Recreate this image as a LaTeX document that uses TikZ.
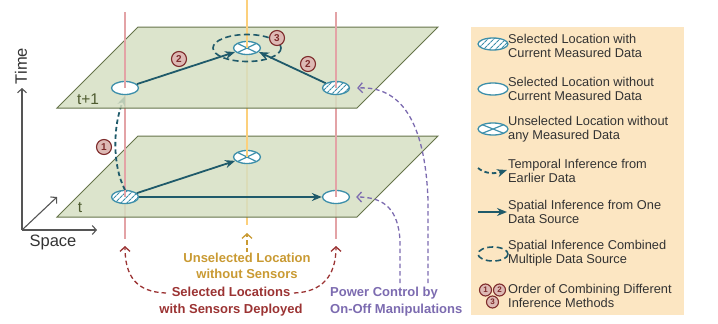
\documentclass[tikz,border=0pt]{standalone}
\usepackage{fontspec}
\setmainfont{Liberation Sans}
\usetikzlibrary{arrows.meta,shapes.geometric,patterns.meta}
\definecolor{planefill}{HTML}{D6DFC3}
\definecolor{planeedge}{HTML}{66744A}
\definecolor{planetext}{HTML}{4E5B2F}
\definecolor{pinkline}{HTML}{E3A3A6}
\definecolor{yelline}{HTML}{FCD07C}
\definecolor{nodeedge}{HTML}{3D8FAA}
\definecolor{arrowc}{HTML}{1F5A6A}
\definecolor{numfill}{HTML}{DDB9B4}
\definecolor{numedge}{HTML}{7E2B2B}
\definecolor{ylabel}{HTML}{C99A33}
\definecolor{rlabel}{HTML}{9B3333}
\definecolor{plabel}{HTML}{7C6BB0}
\definecolor{legfill}{HTML}{FCE6C2}
\definecolor{legtext}{HTML}{333333}
\definecolor{axisc}{HTML}{555555}
\pgfdeclarelayer{Lbase}
\pgfdeclarelayer{Lplane}
\pgfdeclarelayer{Lmid}
\pgfdeclarelayer{Uplane}
\pgfsetlayers{Lbase,Lplane,Lmid,Uplane,main}
\tikzset{
  loc/.style={ellipse, draw=nodeedge, line width=1.3pt, fill=white, minimum width=27pt, minimum height=13pt, inner sep=0pt},
  hatched/.style={loc, preaction={fill=white}, pattern={Lines[angle=45,distance=4pt,line width=1.1pt]}, pattern color=nodeedge},
  crossed/.style={loc, path picture={\draw[nodeedge, line width=1.2pt] (path picture bounding box.north west) -- (path picture bounding box.south east) (path picture bounding box.north east) -- (path picture bounding box.south west);}},
  plane/.style={fill=planefill, fill opacity=0.85, draw=planeedge, line width=1pt},
  planelabel/.style={text=planetext, font=\fontsize{15.5}{15.5}\selectfont, inner sep=0pt},
  pinkv/.style={draw=pinkline, line width=2.8pt},
  yelv/.style={draw=yelline, line width=2.8pt},
  spat/.style={draw=arrowc, line width=1.8pt, -{Stealth[length=10pt,width=8pt]}},
  temp/.style={spat, dash pattern=on 4.5pt off 3pt},
  ring/.style={draw=arrowc, line width=1.6pt, dash pattern=on 6pt off 3.5pt},
  numc/.style={circle, draw=numedge, fill=numfill, line width=1.1pt, minimum size=15pt, inner sep=0pt, text=numedge, font=\fontsize{10}{10}\selectfont\bfseries},
  nums/.style={numc, minimum size=12pt, font=\fontsize{8}{8}\selectfont\bfseries},
  openarr/.style={-{Straight Barb[length=4.5pt,width=10pt]}, dash pattern=on 4.5pt off 3pt, line width=1.3pt},
  axis/.style={draw=axisc, line width=1.1pt, -{Straight Barb[length=4pt,width=9pt]}},
  axislabel/.style={text=black!80, font=\fontsize{16.5}{16.5}\selectfont, inner sep=0pt},
  blabel/.style={font=\fontsize{13}{16.5}\selectfont\bfseries, align=center, inner sep=0pt},
  legtxt/.style={anchor=west, text=legtext, font=\fontsize{12.8}{14}\selectfont, align=left, inner sep=0pt},
}
\begin{document}
\begin{tikzpicture}[x=1pt,y=-1pt]
\useasboundingbox (0,0) rectangle (718,324);
% coordinates of columns
\coordinate (cL0) at (125,197); \coordinate (cL1) at (125,88);
\coordinate (cM0) at (247,157); \coordinate (cM1) at (247,48);
\coordinate (cR0) at (336,197); \coordinate (cR1) at (336,88);
\coordinate (topL) at (125,12); \coordinate (botL) at (125,239);
\coordinate (topM) at (247,0);  \coordinate (botM) at (247,225);
\coordinate (topR) at (336,12); \coordinate (botR) at (336,239);

\begin{pgfonlayer}{Lbase}
  \draw[pinkv] (cL0) -- (botL);
  \draw[pinkv] (cR0) -- (botR);
  \draw[yelv] (cM0) -- (botM);
\end{pgfonlayer}

\begin{pgfonlayer}{Lplane}
  \path[plane] (57,217) -- (138,136) -- (438,136) -- (357,217) -- cycle;
  \node[planelabel] (tl) at (80,208) {t};
\end{pgfonlayer}

\begin{pgfonlayer}{Lmid}
  \node[hatched] (lh) at (cL0) {};
  \node[crossed] (lx) at (cM0) {};
  \node[loc] (le) at (cR0) {};
  \draw[pinkv] (cL0) -- (cL1);
  \draw[pinkv] (cR0) -- (cR1);
  \draw[yelv] (cM0) -- (cM1);
  \draw[spat] (lh) -- (lx);
  \draw[spat] (lh) -- (le);
  \draw[temp] (lh.north) .. controls +(-13,-25) and +(-12,30) .. ([yshift=-1pt]cL1 |- 0,95);
\end{pgfonlayer}

\begin{pgfonlayer}{Uplane}
  \path[plane] (57,108) -- (138,27) -- (438,27) -- (357,108) -- cycle;
  \node[planelabel] (tl1) at (88,99) {t+1};
\end{pgfonlayer}

% upper nodes
\node[loc] (ue) at (cL1) {};
\node[crossed] (ux) at (cM1) {};
\node[hatched] (uh) at (cR1) {};
\draw[pinkv] (cL1) -- (topL);
\draw[pinkv] (cR1) -- (topR);
\draw[yelv] (cM1) -- (topM);
\draw[ring] (cM1) ellipse [x radius=34, y radius=13.5];
\draw[spat] (ue) -- ([xshift=-2pt,yshift=1pt]ux.south west);
\draw[spat] (uh) -- ([xshift=2pt,yshift=1pt]ux.south east);
\node[numc] (n3) at (277,38) {3};
\node[numc] (n2a) at (179,59) {2};
\node[numc] (n2b) at (308,64) {2};
\node[numc] (n1) at (104,147) {1};

% axes
\coordinate (ax0) at (22,230);
\coordinate (axT) at (22,88);
\coordinate (axS) at (97,230);
\coordinate (axD) at (57,197);
\draw[axis] (ax0) -- (axT);
\draw[axis] (ax0) -- (axS);
\draw[axis] (ax0) -- (axD);
\node[axislabel, rotate=90] (timel) at (21,66) {Time};
\node[axislabel] (spacel) at (53,242) {Space};

% bottom labels
\node[blabel, text=ylabel] (ul) at (247,266) {Unselected Location\\without Sensors};
\node[blabel, text=rlabel] (sl) at (231,301.5) {Selected Locations\\with Sensors Deployed};
\node[blabel, text=plabel, align=left, anchor=west] (pl) at (330,301.5) {Power Control by\\On-Off Manipulations};

\coordinate (yst) at (247,252);
\draw[openarr, draw=ylabel] (yst) -- (botM |- 0,233);
\coordinate (rl) at (166,293);
\coordinate (rr) at (294,293);
\draw[openarr, draw=rlabel] (rl) .. controls (136,292) and (125,276) .. (botL |- 0,246);
\draw[openarr, draw=rlabel] (rr) .. controls (322,292) and (336,276) .. (botR |- 0,246);
\coordinate (p1) at (400,283);
\coordinate (p2) at (428,283);
\draw[openarr, draw=plabel] (p1) -- (400,240) .. controls (398,210) and (385,197) .. ([xshift=6pt]le.east);
\draw[openarr, draw=plabel] (p2) -- (428,200) .. controls (425,120) and (400,86) .. ([xshift=7pt]uh.east);

% legend
\path[fill=legfill] (471,27) rectangle (684,315);
\node[hatched, minimum width=30pt, minimum height=12pt] (k1) at (493,44) {};
\node[legtxt] (t1) at (508,46) {Selected Location with\\Current Measured Data};
\node[loc, minimum width=30pt, minimum height=12pt] (k2) at (493,89) {};
\node[legtxt] (t2) at (508,88.5) {Selected Location without\\Current Measured Data};
\node[crossed, minimum width=30pt, minimum height=12pt] (k3) at (493,129) {};
\node[legtxt] (t3) at (508,129.5) {Unselected Location without\\any Measured Data};
\coordinate (k4a) at (478,168);
\coordinate (k4b) at (507,170);
\draw[temp] (k4a) .. controls (485,174) and (495,174) .. (k4b);
\node[legtxt] (t4) at (508,170.5) {Temporal Inference from\\Earlier Data};
\coordinate (k5a) at (478,212);
\coordinate (k5b) at (507,212);
\draw[spat] (k5a) -- (k5b);
\node[legtxt] (t5) at (508,212) {Spatial Inference from One\\Data Source};
\draw[ring] (493,254) ellipse [x radius=15, y radius=7];
\node[legtxt] (t6) at (508,253.5) {Spatial Inference Combined\\Multiple Data Source};
\node[nums] (k7a) at (485.5,290) {1};
\node[nums] (k7b) at (499.5,290) {2};
\node[nums] (k7c) at (492.5,302) {3};
\node[legtxt] (t7) at (508,296) {Order of Combining Different\\Inference Methods};
\end{tikzpicture}
\end{document}
